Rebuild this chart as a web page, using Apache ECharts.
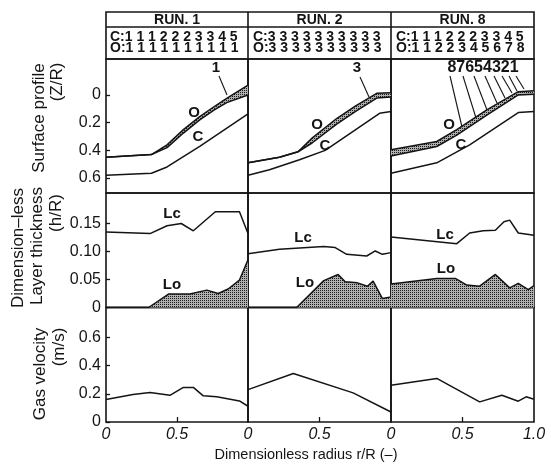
<!DOCTYPE html>
<html><head><meta charset="utf-8">
<script src="https://cdn.jsdelivr.net/npm/echarts@6/dist/echarts.min.js"></script>
<style>html,body{margin:0;padding:0;background:#fff}#c{width:551px;height:466px}</style>
</head><body><div id="c"></div>
<script>
// ---------------- DATA ----------------
const runNames = ['RUN. 1', 'RUN. 2', 'RUN. 8'];
const codeC = ['C:1 1 1 2 2 2 3 3 4 5', 'C:3 3 3 3 3 3 3 3 3 3', 'C:1 1 1 2 2 2 3 3 4 5'];
const codeO = ['O:1 1 1 1 1 1 1 1 1 1', 'O:3 3 3 3 3 3 3 3 3 3', 'O:1 1 2 2 3 4 5 6 7 8'];

const xTickValues = [0, 0.5];
const xTickValuesLast = [0, 0.5, 1.0];
const surfTicks = [0, 0.2, 0.4, 0.6];
const layerTicks = [0, 0.05, 0.10, 0.15];
const gasTicks = [0, 0.2, 0.4, 0.6];

// Surface profile Z/R (inverted axis): O layer top, O layer bottom, C line
const run1_O_top = [[0,0.45],[0.32,0.43],[0.43,0.36],[0.545,0.25],[0.66,0.156],[0.76,0.085],[0.85,0.024],[1.0,-0.072]];
const run1_O_bot = [[0,0.45],[0.32,0.43],[0.43,0.38],[0.545,0.275],[0.66,0.18],[0.76,0.11],[0.85,0.055],[1.0,0.0]];
const run1_C = [[0,0.58],[0.32,0.565],[0.43,0.52],[0.66,0.372],[1.0,0.137]];

const run2_O_top = [[0,0.49],[0.22,0.45],[0.35,0.41],[0.45,0.31],[0.62,0.17],[0.75,0.08],[0.9,-0.012],[1.0,-0.017]];
const run2_O_bot = [[0,0.49],[0.22,0.45],[0.35,0.41],[0.45,0.345],[0.62,0.21],[0.75,0.12],[0.9,0.022],[1.0,0.014]];
const run2_C = [[0,0.58],[0.15,0.54],[0.36,0.468],[0.54,0.40],[0.92,0.132],[1.0,0.12]];

const run8_O_top = [[0,0.396],[0.32,0.336],[0.46,0.25],[0.67,0.108],[0.89,-0.024],[1.0,-0.031]];
const run8_O_bot = [[0,0.44],[0.32,0.372],[0.46,0.29],[0.67,0.145],[0.89,0.0],[1.0,-0.005]];
const run8_C = [[0,0.565],[0.32,0.49],[0.55,0.36],[0.89,0.127],[1.0,0.12]];

// Layer thickness h/R
const run1_Lc = [[0,0.135],[0.31,0.132],[0.43,0.146],[0.53,0.15],[0.615,0.137],[0.77,0.171],[0.94,0.171],[1.0,0.132]];
const run1_Lo = [[0,0],[0.30,0],[0.44,0.024],[0.59,0.024],[0.71,0.031],[0.79,0.025],[0.86,0.033],[0.94,0.049],[1.0,0.085]];
const run2_Lc = [[0,0.096],[0.22,0.104],[0.53,0.109],[0.61,0.107],[0.69,0.095],[0.83,0.092],[0.89,0.101],[0.94,0.095],[1.0,0.098]];
const run2_Lo = [[0,0],[0.34,0],[0.53,0.048],[0.63,0.059],[0.68,0.046],[0.765,0.044],[0.835,0.038],[0.875,0.047],[0.94,0.016],[1.0,0.019]];
const run8_Lc = [[0,0.126],[0.46,0.114],[0.55,0.133],[0.645,0.137],[0.73,0.138],[0.79,0.153],[0.83,0.156],[0.89,0.133],[1.0,0.129]];
const run8_Lo = [[0,0.042],[0.32,0.052],[0.45,0.052],[0.53,0.04],[0.62,0.038],[0.73,0.059],[0.83,0.035],[0.89,0.043],[0.96,0.032],[1.0,0.039]];

// Gas velocity m/s
const run1_gas = [[0,0.16],[0.19,0.196],[0.31,0.21],[0.45,0.19],[0.545,0.246],[0.615,0.246],[0.685,0.186],[0.78,0.179],[0.94,0.15],[1.0,0.112]];
const run2_gas = [[0,0.23],[0.317,0.345],[0.735,0.207],[1.0,0.071]];
const run8_gas = [[0,0.262],[0.32,0.31],[0.62,0.143],[0.775,0.19],[0.89,0.148],[0.945,0.179],[1.0,0.162]];

// ---------------- LAYOUT ----------------
const FONT = '"Liberation Sans", Arial, Helvetica, sans-serif';
const INK = '#141414';
const colLeft = [106, 248, 391];
const colWidth = [142, 143, 143];
const rowTop = [59, 193, 307.5];
const rowHeight = [134, 114.5, 114.5];
const yRanges = [[-0.26, 0.708], [0, 0.2045], [0, 0.814]];
const yTicks = [surfTicks, layerTicks, gasTicks];

// stipple pattern (fine dot grid)
const pc = document.createElement('canvas');
pc.width = 2; pc.height = 2;
const pg = pc.getContext('2d');
pg.fillStyle = '#b0b0b0'; pg.fillRect(0, 0, 2, 2);
pg.fillStyle = '#1a1a1a'; pg.fillRect(0, 0, 1, 1);
const stipple = { image: pc, repeat: 'repeat' };

const grids = [], xAxes = [], yAxes = [], series = [];
for (let r = 0; r < 3; r++) {
  for (let c = 0; c < 3; c++) {
    const i = r * 3 + c;
    grids.push({ left: colLeft[c], top: rowTop[r], width: colWidth[c], height: rowHeight[r],
      show: true, borderColor: INK, borderWidth: 1.6, backgroundColor: 'transparent' });
    const bottomRow = r === 2;
    xAxes.push({ type: 'value', gridIndex: i, min: 0, max: 1,
      axisLine: { show: false }, splitLine: { show: false },
      axisTick: { show: bottomRow, inside: true, length: 5, lineStyle: { color: INK, width: 1.3 },
        customValues: [0.5] },
      axisLabel: { show: bottomRow, margin: 5, fontFamily: FONT, fontSize: 16, fontStyle: 'italic', color: INK,
        customValues: c === 2 ? xTickValuesLast : xTickValues,
        formatter: v => (v === 0 ? '0' : v.toFixed(1)) } });
    yAxes.push({ type: 'value', gridIndex: i, min: yRanges[r][0], max: yRanges[r][1], inverse: r === 0,
      show: c === 0,
      axisLine: { show: false }, splitLine: { show: false },
      axisTick: { show: true, inside: true, length: 4, lineStyle: { color: INK, width: 1.3 }, customValues: yTicks[r] },
      axisLabel: { margin: 5, fontFamily: FONT, fontSize: 16, color: INK, customValues: yTicks[r],
        formatter: v => (v === 0 ? '0' : (r === 1 ? v.toFixed(2) : v.toFixed(1))) } });
  }
}

function lineSeries(idx, data) {
  return { type: 'line', xAxisIndex: idx, yAxisIndex: idx, data: data, symbol: 'none', silent: true,
    lineStyle: { color: INK, width: 1.5 }, z: 3 };
}
function bandSeries(idx, top, bot) {
  const triples = top.map((p, k) => [p[0], p[1], bot[k][1]]);
  return { type: 'custom', xAxisIndex: idx, yAxisIndex: idx, data: triples, silent: true, z: 2,
    encode: { x: 0, y: [1, 2] },
    renderItem: function (params, api) {
      if (params.dataIndexInside !== 0) return;
      const n = params.dataInsideLength;
      const pts = [];
      for (let j = 0; j < n; j++) pts.push(api.coord([api.value(0, j), api.value(1, j)]));
      for (let j = n - 1; j >= 0; j--) pts.push(api.coord([api.value(0, j), api.value(2, j)]));
      return { type: 'polygon', shape: { points: pts }, style: { fill: stipple, stroke: null } };
    } };
}

const surf = [[run1_O_top, run1_O_bot, run1_C], [run2_O_top, run2_O_bot, run2_C], [run8_O_top, run8_O_bot, run8_C]];
const layer = [[run1_Lc, run1_Lo], [run2_Lc, run2_Lo], [run8_Lc, run8_Lo]];
const gas = [run1_gas, run2_gas, run8_gas];
for (let c = 0; c < 3; c++) {
  series.push(bandSeries(c, surf[c][0], surf[c][1]));
  series.push(lineSeries(c, surf[c][0]));
  series.push(lineSeries(c, surf[c][1]));
  series.push(lineSeries(c, surf[c][2]));
  series.push(lineSeries(3 + c, layer[c][0]));
  const lo = lineSeries(3 + c, layer[c][1]);
  lo.areaStyle = { color: stipple, opacity: 1, origin: 'start' };
  series.push(lo);
  series.push(lineSeries(6 + c, gas[c]));
}

// ---------------- ANNOTATIONS ----------------
const g = [];
function txt(x, y, t, font, align, rot) {
  g.push({ type: 'text', x: x, y: y, rotation: rot || 0, silent: true, z: 10,
    style: { text: t, font: font, fill: INK, align: align || 'center', verticalAlign: 'middle' } });
}
function seg(x1, y1, x2, y2, w) {
  g.push({ type: 'line', silent: true, z: 10, shape: { x1: x1, y1: y1, x2: x2, y2: y2 },
    style: { stroke: INK, lineWidth: w || 1.1 } });
}
// header table
g.push({ type: 'rect', silent: true, z: 10, shape: { x: 106, y: 12, width: 428, height: 47 },
  style: { fill: 'none', stroke: INK, lineWidth: 1.6 } });
seg(106, 27, 534, 27, 1.4);
seg(248, 12, 248, 59, 1.6);
seg(391, 12, 391, 59, 1.6);
const hdrCenters = [177, 319.5, 462.5];
const hdrLeft = [110, 253, 396];
for (let c = 0; c < 3; c++) {
  txt(hdrCenters[c], 20, runNames[c], 'bold 14px ' + FONT, 'center');
  txt(hdrLeft[c], 37.5, codeC[c], 'bold 14px ' + FONT, 'left');
  txt(hdrLeft[c], 48.5, codeO[c], 'bold 14px ' + FONT, 'left');
}
// in-plot labels
const LF = 'bold 15px ' + FONT;
txt(216, 68, '1', LF); seg(219, 76, 227, 95);
txt(194, 113, 'O', LF); txt(198, 137, 'C', LF);
txt(357, 68, '3', LF); seg(360, 77, 369, 97);
txt(317, 125, 'O', LF); txt(325, 146, 'C', LF);
txt(483, 68, '87654321', 'bold 16px ' + FONT);
txt(449, 125, 'O', LF); txt(461, 145, 'C', LF);
const leaders = [[450,76,462,127],[463,76,476,118],[474,76,487,110],[485,76,497,103],[494,76,505,98],[502,76,512,93],[509,76,517,91],[516,76,524,89]];
leaders.forEach(l => seg(l[0], l[1], l[2], l[3]));
txt(172, 214, 'Lc', LF); txt(172, 285, 'Lo', LF);
txt(303, 238, 'Lc', LF); txt(305, 283, 'Lo', LF);
txt(445, 235, 'Lc', LF); txt(446, 269, 'Lo', LF);
// axis titles
const TF = '17px ' + FONT;
const R90 = Math.PI / 2;
txt(39, 118, 'Surface profile', TF, 'center', R90);
txt(57, 82, '(Z/R)', TF, 'center', R90);
txt(18.5, 248, 'Dimension\u2013less', TF, 'center', R90);
txt(37.5, 246, 'Layer thickness', TF, 'center', R90);
txt(56.5, 213, '(h/R)', TF, 'center', R90);
txt(40, 374, 'Gas velocity', TF, 'center', R90);
txt(59, 347, '(m/s)', TF, 'center', R90);
txt(306, 455, 'Dimensionless radius r/R (\u2013)', '14.5px ' + FONT, 'center');

const chart = echarts.init(document.getElementById('c'), null, { renderer: 'canvas' });
chart.setOption({
  animation: false,
  backgroundColor: '#fff',
  grid: grids, xAxis: xAxes, yAxis: yAxes, series: series, graphic: g
});
</script></body></html>
